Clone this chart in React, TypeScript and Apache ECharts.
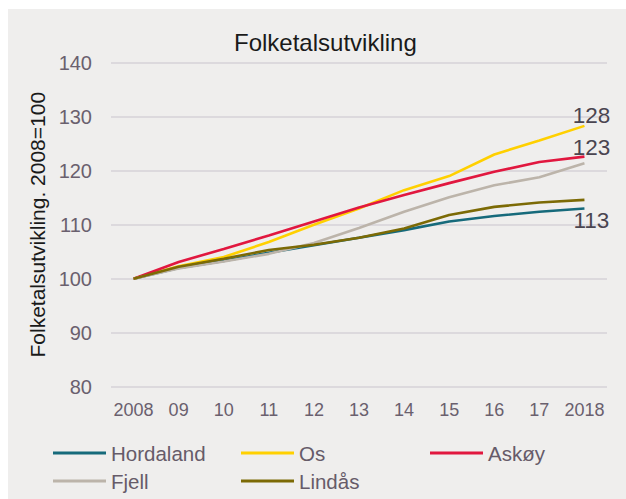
import React, { useEffect, useRef } from "react";
import * as echarts from "echarts";

const years = ["2008", "09", "10", "11", "12", "13", "14", "15", "16", "17", "2018"];
const hordaland = [100, 102.0, 103.3, 104.8, 106.2, 107.6, 109.0, 110.6, 111.6, 112.4, 113.0];
const os = [100, 102.3, 104.0, 106.8, 110.0, 113.0, 116.4, 119.0, 123.0, 125.6, 128.3];
const askoy = [100, 103.1, 105.5, 108.0, 110.6, 113.2, 115.5, 117.7, 119.8, 121.6, 122.6];
const fjell = [100, 101.9, 103.2, 104.6, 106.6, 109.4, 112.4, 115.1, 117.3, 118.8, 121.4];
const lindas = [100, 102.2, 103.7, 105.3, 106.3, 107.6, 109.3, 111.8, 113.3, 114.1, 114.6];

const FONT = "'Liberation Sans', Arial, Helvetica, sans-serif";

export default function App() {
  const ref = useRef<HTMLDivElement>(null);
  useEffect(() => {
    if (!ref.current) return;
    const chart = echarts.init(ref.current, undefined, { renderer: "svg" });
    const endLabel = (dy: number) => ({
      show: true,
      formatter: (p: any) => String(Math.round(Array.isArray(p.value) ? p.value[1] : p.value)),
      distance: 0,
      align: "center",
      verticalAlign: "middle",
      offset: [7, dy],
      fontSize: 22.5,
      color: "#4a4550",
      fontFamily: FONT,
    });
    const mkSeries = (name: string, data: number[], color: string, label?: any) => ({
      name,
      type: "line",
      data,
      showSymbol: false,
      symbol: "none",
      lineStyle: { color, width: 2.6 },
      itemStyle: { color },
      endLabel: label,
    });
    const legendBase = {
      icon: "rect",
      itemWidth: 53,
      itemHeight: 3,
      padding: 0,
      textStyle: { fontSize: 20.5, color: "#665b69", fontFamily: FONT, lineHeight: 22 },
    };
    chart.setOption({
      animation: false,
      backgroundColor: "transparent",
      graphic: [
        {
          type: "rect",
          shape: { x: 8, y: 9, width: 618, height: 490 },
          style: { fill: "#efeeed" },
          z: -10,
          silent: true,
        },
      ],
      title: {
        text: "Folketalsutvikling",
        left: 234,
        top: 30,
        padding: 0,
        textStyle: { fontSize: 24, fontWeight: "normal", color: "#1a1a1a", fontFamily: FONT },
      },
      grid: { left: 111, right: 19, top: 62.7, bottom: 112.3, containLabel: false, outerBoundsMode: "none" },
      xAxis: {
        type: "category",
        data: years,
        boundaryGap: true,
        axisLine: { show: false },
        axisTick: { show: false },
        axisLabel: { fontSize: 18, color: "#6a606e", margin: 14, fontFamily: FONT, interval: 0 },
        splitLine: { show: false },
      },
      yAxis: {
        type: "value",
        min: 80,
        max: 140,
        interval: 10,
        name: "Folketalsutvikling. 2008=100",
        nameLocation: "middle",
        nameRotate: 90,
        nameGap: 61,
        nameTextStyle: { fontSize: 21, color: "#1a1a1a", fontFamily: FONT },
        axisLine: { show: false },
        axisTick: { show: false },
        axisLabel: { fontSize: 20, color: "#6a606e", margin: 19, fontFamily: FONT },
        splitLine: { lineStyle: { color: "#dcd9dd", width: 2 } },
      },
      legend: [
        { ...legendBase, data: ["Hordaland"], left: 53, top: 442 },
        { ...legendBase, data: ["Os"], left: 241, top: 442 },
        { ...legendBase, data: ["Askøy"], left: 430, top: 442 },
        { ...legendBase, data: ["Fjell"], left: 53, top: 470 },
        { ...legendBase, data: ["Lindås"], left: 241, top: 470 },
      ],
      series: [
        mkSeries("Hordaland", hordaland, "#166a7b", endLabel(12)),
        mkSeries("Os", os, "#ffd000", endLabel(-10)),
        mkSeries("Askøy", askoy, "#e1173f", endLabel(-9)),
        mkSeries("Fjell", fjell, "#bcb4aa"),
        mkSeries("Lindås", lindas, "#7c6a05"),
      ],
    });
    return () => chart.dispose();
  }, []);
  return (
    <div
      ref={ref}
      style={{ position: "absolute", left: 0, top: 0, width: 626, height: 499 }}
    />
  );
}
